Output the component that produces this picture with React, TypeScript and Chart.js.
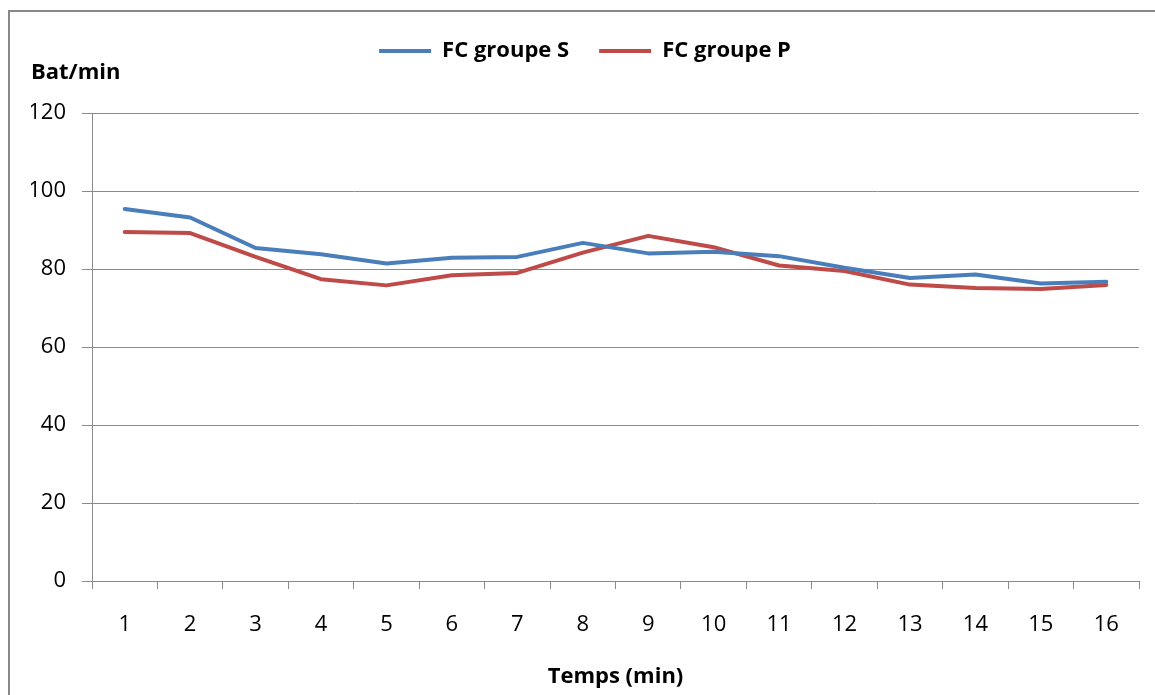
import React, { useEffect, useRef } from "react";
import { Chart, registerables } from "chart.js";

Chart.register(...registerables);

const categories = ["1", "2", "3", "4", "5", "6", "7", "8", "9", "10", "11", "12", "13", "14", "15", "16"];
const seriesNames = ["FC groupe S", "FC groupe P"];
const seriesS = [95.4, 93.2, 85.4, 83.8, 81.4, 82.9, 83.1, 86.7, 84.0, 84.4, 83.3, 80.3, 77.7, 78.6, 76.3, 76.7];
const seriesP = [89.5, 89.2, 83.1, 77.4, 75.8, 78.4, 79.0, 84.2, 88.5, 85.6, 80.9, 79.5, 76.0, 75.1, 74.9, 75.9];
const yTickValues = [0, 20, 40, 60, 80, 100, 120];
const yAxisLabel = "Bat/min";
const xAxisLabel = "Temps (min)";

const BLUE = "#4A7EBB";
const RED = "#BE4B48";
const GRID = "#8A8A8A";
const FONT = "'Open Sans', sans-serif";

export default function App() {
  const ref = useRef<HTMLCanvasElement>(null);

  useEffect(() => {
    if (!ref.current) return;
    const chart = new Chart(ref.current, {
      type: "line",
      data: {
        labels: categories,
        datasets: [
          {
            label: seriesNames[0],
            data: seriesS,
            borderColor: BLUE,
            backgroundColor: BLUE,
            borderWidth: 4,
            pointRadius: 0,
            pointHoverRadius: 0,
            borderCapStyle: "round",
            borderJoinStyle: "round",
            tension: 0,
            fill: false,
          },
          {
            label: seriesNames[1],
            data: seriesP,
            borderColor: RED,
            backgroundColor: RED,
            borderWidth: 4,
            pointRadius: 0,
            pointHoverRadius: 0,
            borderCapStyle: "round",
            borderJoinStyle: "round",
            tension: 0,
            fill: false,
          },
        ],
      },
      options: {
        responsive: false,
        animation: false,
        devicePixelRatio: 1,
        layout: { padding: { top: 10, left: 31, right: 16, bottom: 0 } },
        plugins: {
          legend: {
            display: true,
            position: "top",
            align: "center",
            labels: {
              usePointStyle: true,
              pointStyle: "line",
              pointStyleWidth: 52,
              padding: 30,
              color: "#000",
              font: { family: FONT, size: 22, weight: "bold" },
            },
          },
          title: {
            display: true,
            text: yAxisLabel,
            position: "top",
            align: "start",
            weight: 500,
            color: "#000",
            font: { family: FONT, size: 22, weight: "bold", lineHeight: 1.2 },
            padding: { top: -12.5, bottom: 27.1 },
          },
          tooltip: { enabled: false },
        },
        scales: {
          x: {
            type: "category",
            offset: true,
            grid: {
              offset: true,
              drawOnChartArea: false,
              drawTicks: true,
              tickLength: 8,
              color: GRID,
              lineWidth: 1,
            },
            border: { display: true, color: GRID, width: 1 },
            ticks: {
              color: "#000",
              font: { family: FONT, size: 22 },
              padding: 23,
              maxRotation: 0,
              autoSkip: false,
            },
            title: {
              display: true,
              text: xAxisLabel,
              color: "#000",
              font: { family: FONT, size: 22, weight: "bold", lineHeight: 1.2 },
              padding: { top: 0, bottom: 5 },
            },
            afterFit: (scale: any) => {
              scale.height = 114;
            },
          },
          y: {
            min: yTickValues[0],
            max: yTickValues[yTickValues.length - 1],
            ticks: {
              stepSize: yTickValues[1] - yTickValues[0],
              color: "#000",
              font: { family: FONT, size: 22 },
              padding: 16,
            },
            grid: {
              color: GRID,
              lineWidth: 1,
              drawTicks: true,
              tickLength: 10,
            },
            border: { display: true, color: GRID, width: 1 },
            afterFit: (scale: any) => {
              scale.width = 61;
            },
          },
        },
      },
    } as any);
    return () => chart.destroy();
  }, []);

  return (
    <div
      style={{
        position: "fixed",
        left: 0,
        top: 0,
        width: 1155,
        height: 695,
        overflow: "hidden",
        background: "#fff",
      }}
    >
      <div
        style={{
          position: "absolute",
          left: 8,
          top: 10,
          width: 2000,
          height: 2000,
          borderLeft: "2px solid #898989",
          borderTop: "2px solid #898989",
        }}
      />
      <canvas
        ref={ref}
        width={1155}
        height={695}
        style={{ position: "absolute", left: 0, top: 0, width: 1155, height: 695 }}
      />
    </div>
  );
}
